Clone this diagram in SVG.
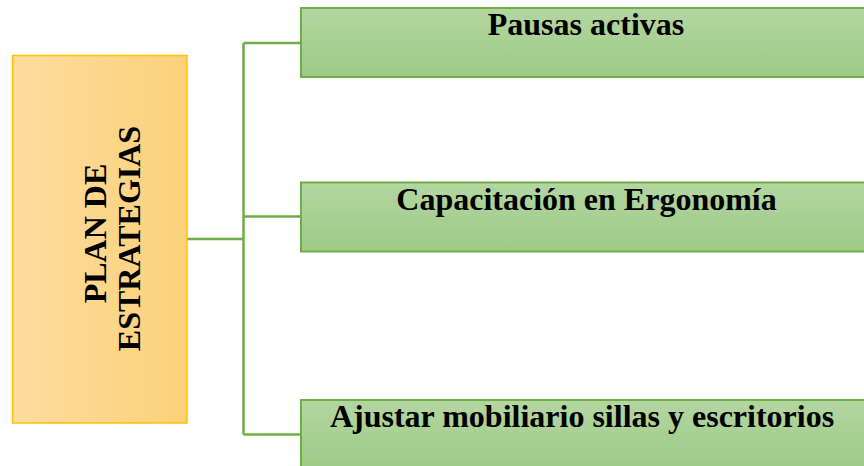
<svg xmlns="http://www.w3.org/2000/svg" width="864" height="466" viewBox="0 0 864 466">
<defs>
<linearGradient id="gold" x1="0" y1="0" x2="1" y2="0">
<stop offset="0" stop-color="#FDDC9E"/>
<stop offset="1" stop-color="#FCD17A"/>
</linearGradient>
<linearGradient id="green" x1="0" y1="0" x2="0" y2="1">
<stop offset="0" stop-color="#B4D6A2"/>
<stop offset="1" stop-color="#9DCA85"/>
</linearGradient>
<style>
.lbl{font-family:"Liberation Serif","Times New Roman",serif;font-weight:bold;font-size:32px;fill:#000}
.gbox{fill:url(#green);stroke:#70AD47;stroke-width:2}
.conn{fill:none;stroke:#70AD47;stroke-width:2.5}
</style>
</defs>
<rect width="864" height="466" fill="#fff"/>
<g id="connectors">
<path class="conn" d="M187,239 H243.5 M243.5,43 V434.5 M243.5,43 H301 M243.5,216.5 H301 M243.5,434.5 H301"/>
</g>
<g id="plan">
<rect x="12.5" y="55.5" width="174.5" height="367.5" fill="url(#gold)" stroke="#FFC000" stroke-width="1.5"/>
<text class="lbl" text-anchor="middle" transform="translate(106,233.5) rotate(-90)">PLAN DE</text>
<text class="lbl" text-anchor="middle" transform="translate(140,238.5) rotate(-90)">ESTRATEGIAS</text>
</g>
<g id="pausas">
<rect class="gbox" x="301" y="8" width="575" height="69"/>
<text class="lbl" x="586" y="35" text-anchor="middle">Pausas activas</text>
</g>
<g id="capacitacion">
<rect class="gbox" x="301" y="182.5" width="575" height="69"/>
<text class="lbl" x="586.5" y="210" text-anchor="middle">Capacitación en Ergonomía</text>
</g>
<g id="ajustar">
<rect class="gbox" x="301" y="400" width="575" height="69"/>
<text class="lbl" x="582" y="427" text-anchor="middle">Ajustar mobiliario sillas y escritorios</text>
</g>
</svg>
